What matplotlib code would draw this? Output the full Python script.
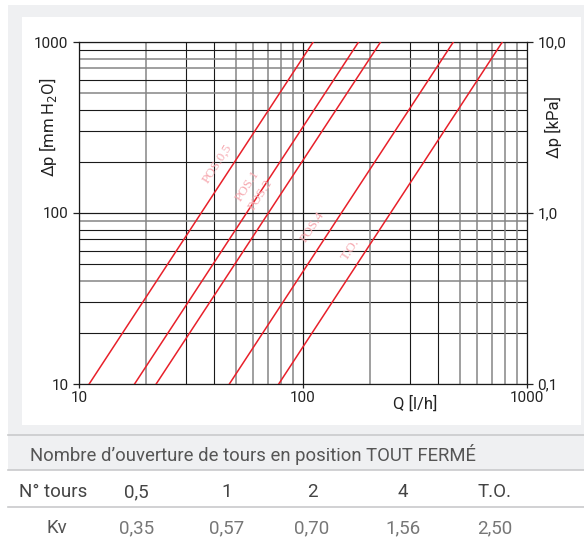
import numpy as np
import matplotlib
matplotlib.use("Agg")
import matplotlib.pyplot as plt
from matplotlib.patches import Rectangle
from matplotlib.lines import Line2D
from matplotlib.transforms import offset_copy

plt.rcParams['font.family'] = ['Roboto', 'DejaVu Sans']

# data
line_labels = ['POS.0,5', 'POS.1', 'POS.2', 'POS.4', 'T.O.']
dp_ends = [10, 1000]                      # mm H2O
q_at_10 = [11.1, 17.7, 22.1, 46.9, 77.9]  # l/h at 10 mm H2O
q_at_1000 = [111, 177, 222, 469, 776]     # l/h at 1000 mm H2O
label_q = [43.4, 59.0, 67.6, 115, 170.6]
label_dp = [186, 139, 122, 79.3, 59.2]

table_title = "Nombre d\u2019ouverture de tours en position TOUT FERMÉ"
tours = ['0,5', '1', '2', '4', 'T.O.']
kv = ['0,35', '0,57', '0,70', '1,56', '2,50']

W, H = 584, 537
fig = plt.figure(figsize=(W / 100, H / 100), dpi=100)


def fx(x):
    return x / W


def fy(y):
    return 1 - y / H


# backgrounds
for (x0, y0, x1, y1, c) in [(8, 5, 584, 435, '#eff0f2'), (22, 17, 581, 425, 'white'),
                            (8, 435, 584, 470, '#eff0f2')]:
    fig.patches.append(Rectangle((fx(x0), fy(y1)), fx(x1 - x0), (y1 - y0) / H,
                                 transform=fig.transFigure, facecolor=c,
                                 edgecolor='none', zorder=-5))

ax = fig.add_axes([fx(79), fy(384), 448 / W, 342 / H])
ax.set_xscale('log')
ax.set_yscale('log')
ax.set_xlim(10, 1000)
ax.set_ylim(10, 1000)
ax.set_facecolor('none')

# grid
black, gray = '#1a1a1a', '#858585'
gray_x = [2, 5, 6, 7, 8, 9]
gray_y_low = [4, 9]
gray_y_high = [5, 7, 8]
for dec in [10, 100]:
    for m in range(1, 11):
        v = dec * m
        c = gray if m in gray_x else black
        ax.axvline(v, color=c, lw=1.1 if c == gray else 0.8, zorder=1)
        if dec == 10:
            c = gray if m in gray_y_low else black
        else:
            c = gray if m in gray_y_high else black
        ax.axhline(v, color=c, lw=1.1 if c == gray else 0.8, zorder=1)

for q0, q1 in zip(q_at_10, q_at_1000):
    ax.plot([q0, q1], dp_ends, color='#e8202a', lw=1.1, zorder=3)

# labels sit a little up-left of their line
lab_tr = offset_copy(ax.transData, fig=fig, x=-3.0, y=2.0, units='points')
for lab, q, dp in zip(line_labels, label_q, label_dp):
    ax.text(q, dp, lab, rotation=56.8, rotation_mode='anchor', ha='center', va='center',
            fontsize=9.5, family='Liberation Serif', color='#f6a9b0', zorder=4,
            transform=lab_tr)

for s in ax.spines.values():
    s.set_color(black)
    s.set_linewidth(0.9)

ax.set_xticks([10, 100, 1000])
ax.set_xticklabels(['10', '100', '1000'])
ax.set_yticks([10, 100, 1000])
ax.set_yticklabels(['10', '100', '1000'])
ax.minorticks_off()
ax.tick_params(axis='both', labelsize=11, colors='#222222', length=4, width=0.9)
ax.tick_params(axis='x', pad=2, length=3)
ax.set_ylabel('Δp [mm H$_2$O]', fontsize=12, color='#222222')
ax.yaxis.set_label_coords(-0.045, 0.75)
ax.set_xlabel('Q [l/h]', fontsize=12, color='#222222')
ax.xaxis.set_label_coords(0.75, -0.035)
ax.xaxis.label.set_va('top')

ax2 = ax.twinx()
ax2.set_yscale('log')
ax2.set_ylim(0.1, 10)
ax2.set_yticks([0.1, 1, 10])
ax2.set_yticklabels(['0,1', '1,0', '10,0'])
ax2.minorticks_off()
ax2.tick_params(axis='y', labelsize=11, colors='#222222', length=4, width=0.9)
for s in ax2.spines.values():
    s.set_visible(False)
ax2.set_ylabel('Δp [kPa]', fontsize=12, color='#222222', rotation=90)
ax2.yaxis.set_label_coords(1.04, 0.75)

# table
for y in [435, 470, 507]:
    fig.lines.append(Line2D([fx(8), 1], [fy(y), fy(y)], transform=fig.transFigure,
                            color='#c9cacc', lw=1.2))

fig.text(fx(253), fy(461), table_title, ha='center', va='baseline', fontsize=13.3, color='#555555')
col_x = [136.7, 226.7, 312, 403, 495]
fig.text(fx(53), fy(497), 'N° tours', ha='center', va='baseline', fontsize=13.5, color='#444444')
fig.text(fx(57), fy(533), 'Kv', ha='center', va='baseline', fontsize=13.5, color='#555555')
for x, t, k in zip(col_x, tours, kv):
    fig.text(fx(x), fy(497), t, ha='center', va='baseline', fontsize=13.5, color='#444444')
    fig.text(fx(x), fy(533), k, ha='center', va='baseline', fontsize=13.5, color='#777777')

fig.savefig('out.png', dpi=100)
